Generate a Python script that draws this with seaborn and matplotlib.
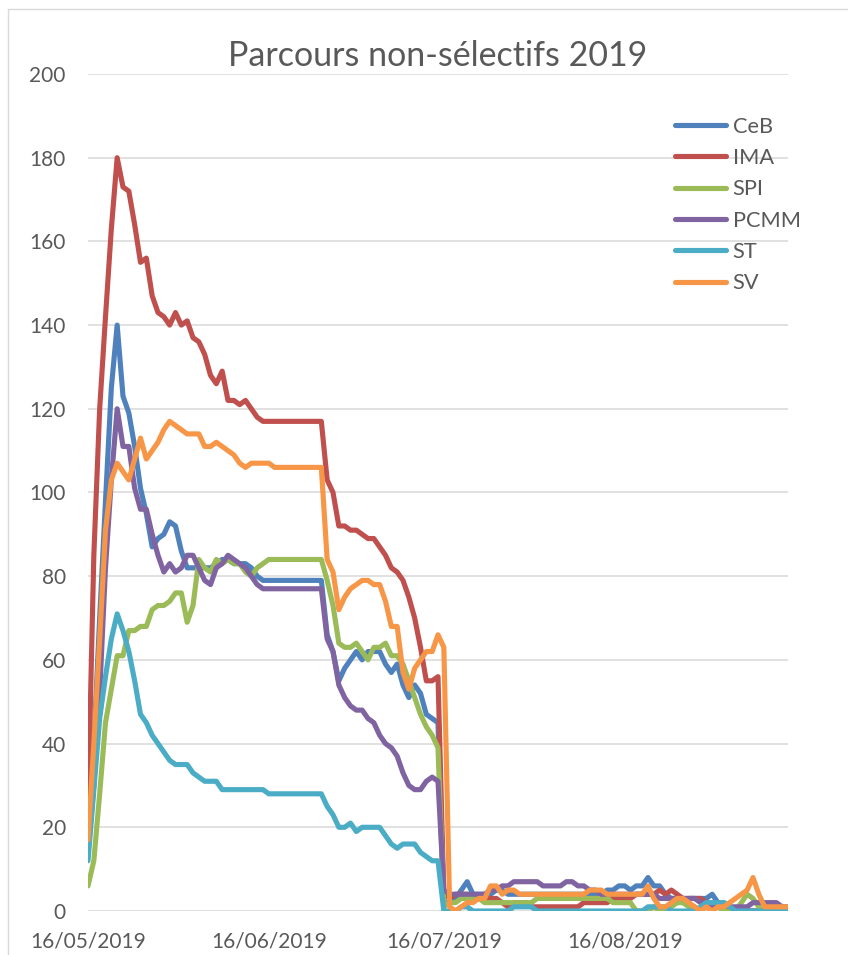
import numpy as np
import pandas as pd
import matplotlib
matplotlib.use("Agg")
import matplotlib.pyplot as plt
import matplotlib.dates as mdates
from matplotlib.lines import Line2D
import seaborn as sns

# daily counts from 16/05/2019
start_date = "2019-05-16"

ceb = [18, 40, 70, 98, 125, 140, 123, 119, 111, 101, 95,
       87, 89, 90, 93, 92, 86, 82, 82, 82, 82,
       82, 83, 84, 84, 83, 83, 83, 82, 80, 79,
       79, 79, 79, 79, 79, 79, 79, 79, 79, 79,
       66, 62, 55, 58, 60, 62, 60, 62, 62, 62,
       59, 57, 59, 54, 51, 54, 52, 47, 46, 45,
       2, 2, 3, 5, 7, 4, 4, 4, 4, 5,
       5, 4, 4, 4, 4, 4, 4, 4, 4, 4,
       4, 4, 4, 4, 4, 4, 4, 4, 5, 5,
       6, 6, 5, 6, 6, 8, 6, 6, 4, 3,
       3, 2, 3, 3, 3, 3, 4, 2, 1, 0,
       0, 0, 0, 0, 0, 0, 0, 0, 0, 0]

ima = [25, 85, 120, 142, 163, 180, 173, 172, 164, 155, 156,
       147, 143, 142, 140, 143, 140, 141, 137, 136, 133,
       128, 126, 129, 122, 122, 121, 122, 120, 118, 117,
       117, 117, 117, 117, 117, 117, 117, 117, 117, 117,
       103, 100, 92, 92, 91, 91, 90, 89, 89, 87,
       85, 82, 81, 79, 75, 70, 63, 55, 55, 56,
       4, 3, 4, 4, 4, 3, 3, 3, 3, 3,
       2, 1, 2, 2, 2, 1, 1, 1, 1, 1,
       1, 1, 1, 1, 2, 2, 2, 2, 2, 3,
       3, 3, 3, 4, 4, 4, 4, 5, 4, 5,
       4, 3, 3, 3, 3, 2, 1, 2, 1, 0,
       0, 1, 0, 0, 0, 0, 0, 0, 0, 0]

spi = [6, 12, 28, 45, 53, 61, 61, 67, 67, 68, 68,
       72, 73, 73, 74, 76, 76, 69, 73, 84, 82,
       81, 84, 83, 84, 83, 83, 81, 80, 82, 83,
       84, 84, 84, 84, 84, 84, 84, 84, 84, 84,
       79, 73, 64, 63, 63, 64, 62, 60, 63, 63,
       64, 61, 61, 59, 55, 51, 47, 44, 42, 39,
       1, 2, 2, 3, 3, 3, 3, 2, 2, 2,
       2, 2, 2, 2, 2, 2, 3, 3, 3, 3,
       3, 3, 3, 3, 3, 3, 3, 3, 3, 2,
       2, 2, 2, 0, 0, 0, 1, 0, 0, 1,
       2, 2, 1, 1, 0, 1, 2, 1, 0, 0,
       0, 2, 4, 3, 1, 0, 0, 0, 0, 0]

pcmm = [14, 30, 52, 82, 103, 120, 111, 111, 101, 96, 96,
        90, 85, 81, 83, 81, 82, 85, 85, 82, 79,
        78, 82, 83, 85, 84, 83, 82, 80, 78, 77,
        77, 77, 77, 77, 77, 77, 77, 77, 77, 77,
        65, 62, 54, 51, 49, 48, 48, 46, 45, 42,
        40, 39, 37, 33, 30, 29, 29, 31, 32, 31,
        5, 4, 4, 4, 4, 4, 4, 4, 5, 5,
        6, 6, 7, 7, 7, 7, 7, 6, 6, 6,
        6, 7, 7, 6, 6, 5, 5, 4, 4, 4,
        4, 4, 4, 4, 4, 4, 4, 3, 3, 3,
        3, 3, 3, 3, 2, 2, 1, 1, 2, 1,
        1, 1, 1, 2, 2, 2, 2, 2, 1, 1]

st = [12, 29, 46, 56, 65, 71, 67, 62, 55, 47, 45,
      42, 40, 38, 36, 35, 35, 35, 33, 32, 31,
      31, 31, 29, 29, 29, 29, 29, 29, 29, 29,
      28, 28, 28, 28, 28, 28, 28, 28, 28, 28,
      25, 23, 20, 20, 21, 19, 20, 20, 20, 20,
      18, 16, 15, 16, 16, 16, 14, 13, 12, 12,
      0, 0, 0, 1, 1, 0, 0, 0, 0, 0,
      0, 0, 1, 1, 1, 1, 0, 0, 0, 0,
      0, 0, 0, 0, 0, 0, 0, 0, 0, 0,
      0, 0, 0, 0, 0, 1, 1, 1, 1, 0,
      0, 0, 0, 0, 1, 2, 2, 2, 2, 1,
      0, 0, 0, 0, 0, 0, 0, 0, 0, 0]

sv = [17, 40, 65, 91, 103, 107, 105, 103, 108, 113, 108,
      110, 112, 115, 117, 116, 115, 114, 114, 114, 111,
      111, 112, 111, 110, 109, 107, 106, 107, 107, 107,
      107, 106, 106, 106, 106, 106, 106, 106, 106, 106,
      84, 81, 72, 75, 77, 78, 79, 79, 78, 78,
      74, 68, 68, 57, 53, 58, 60, 62, 62, 66,
      63, 1, 0, 1, 2, 2, 3, 3, 6, 6,
      4, 5, 5, 4, 4, 4, 4, 4, 4, 4,
      4, 4, 4, 4, 4, 5, 5, 5, 4, 4,
      4, 4, 4, 4, 4, 6, 3, 1, 1, 2,
      3, 3, 2, 1, 0, 1, 0, 1, 1, 2,
      3, 4, 5, 8, 4, 1, 1, 1, 1, 1]

series_names = ["CeB", "IMA", "SPI", "PCMM", "ST", "SV"]
series_values = [ceb, ima, spi, pcmm, st, sv]
colors = ["#4F81BD", "#C0504D", "#9BBB59", "#8064A2", "#4BACC6", "#F79646"]
tick_dates = ["2019-05-16", "2019-06-16", "2019-07-16", "2019-08-16"]
y_ticks = list(range(0, 201, 20))

frames = []
for name, vals in zip(series_names, series_values):
    d = pd.date_range(start_date, periods=len(vals), freq="D")
    frames.append(pd.DataFrame({"date": d, "value": vals, "parcours": name}))
df = pd.concat(frames, ignore_index=True)

sns.set_style("white")
plt.rcParams["font.family"] = ["Lato", "DejaVu Sans"]
txt = "#595959"

fig = plt.figure(figsize=(8.48, 9.55), dpi=100)
ax = fig.add_axes([88 / 848, 1 - 911 / 955, 700 / 848, 837 / 955])

sns.lineplot(data=df, x="date", y="value", hue="parcours", hue_order=series_names,
             palette=dict(zip(series_names, colors)), linewidth=3.7, ax=ax,
             solid_joinstyle="round", solid_capstyle="round")

ax.set_xlim(df["date"].min(), df["date"].max())
ax.set_ylim(0, 200)
ax.set_yticks(y_ticks)
ax.set_xticks(pd.to_datetime(tick_dates))
ax.xaxis.set_major_formatter(mdates.DateFormatter("%d/%m/%Y"))
ax.grid(axis="y", color="#D9D9D9", linewidth=1.1)
ax.grid(axis="x", visible=False)
ax.set_axisbelow(True)
for s in ax.spines.values():
    s.set_visible(False)
ax.tick_params(axis="y", length=0, pad=16, labelsize=15, labelcolor=txt)
ax.tick_params(axis="x", length=0, pad=15, labelsize=15, labelcolor=txt)
ax.set_xlabel("")
ax.set_ylabel("")
ax.set_title("Parcours non-sélectifs 2019", fontsize=24.5, color=txt, pad=6)

handles, labels = ax.get_legend_handles_labels()
leg = ax.legend(handles, labels, loc="upper left", bbox_to_anchor=(666 / 848, 1 - 108 / 955),
                bbox_transform=fig.transFigure, frameon=False, fontsize=15.7,
                handlelength=2.35, handletextpad=0.3, labelspacing=0.52, borderaxespad=0)
for t in leg.get_texts():
    t.set_color(txt)

# chart area border
fig.add_artist(Line2D([8 / 848, 8 / 848], [0, 1 - 9 / 955], color="#D9D9D9", linewidth=1))
fig.add_artist(Line2D([8 / 848, 1], [1 - 9 / 955, 1 - 9 / 955], color="#D9D9D9", linewidth=1))

fig.savefig("out.png", dpi=100)
